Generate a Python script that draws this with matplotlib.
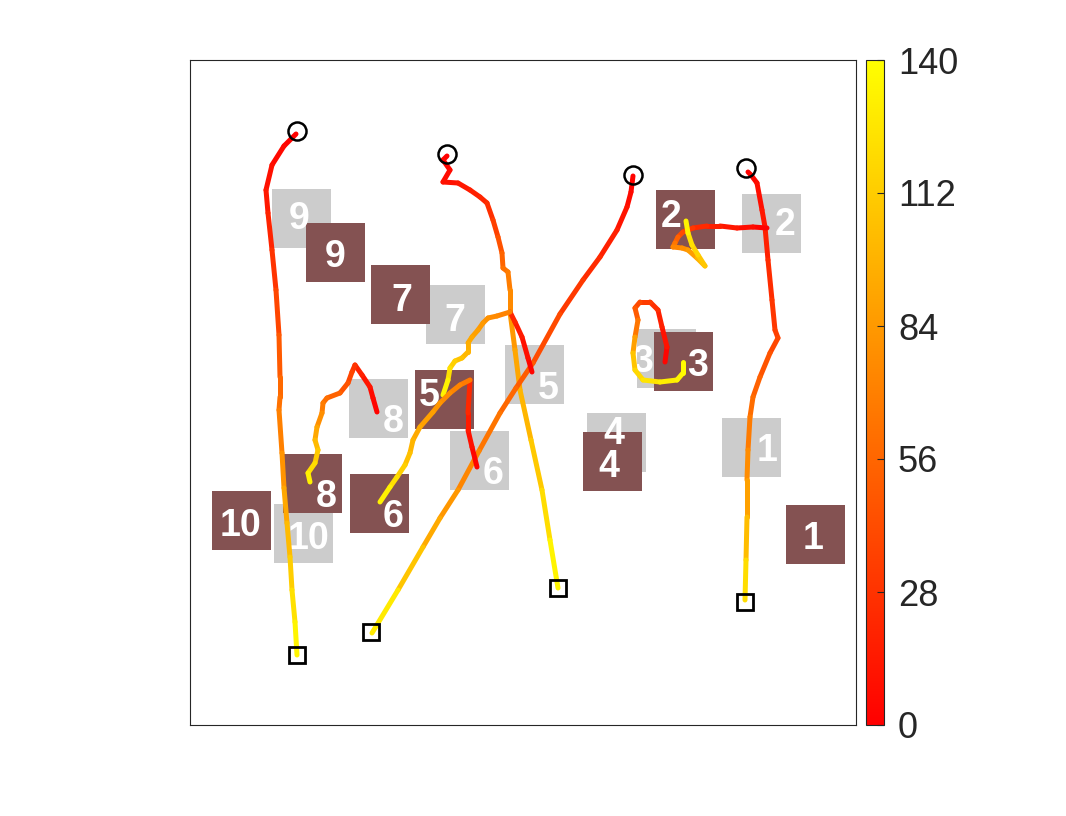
import numpy as np
import matplotlib
matplotlib.use("Agg")
import matplotlib.pyplot as plt
from matplotlib.collections import LineCollection
from matplotlib.patches import Rectangle
from matplotlib.colors import Normalize
from matplotlib.cm import ScalarMappable

# arena coordinates (image-style, y grows downwards), time in seconds
t_max = 140
cbar_ticks = [0, 28, 56, 84, 112, 140]

# initial object positions (grey) and goal positions (dark)
box_ids = ["1", "2", "3", "4", "5", "6", "7", "8", "9", "10"]
start_x = [561, 581, 476, 426, 344, 289, 265, 188, 111, 113]
start_y = [387, 163, 298, 382, 314, 400, 254, 348, 158, 473]
start_lx = [577, 595, 453, 424, 358, 303, 265, 203, 109, 119]
start_ly = [387, 161, 298, 370, 325, 410, 257, 358, 155, 475]
goal_x = [625, 495, 493, 422, 254, 189, 210, 122, 145, 51]
goal_y = [474, 159, 301, 401, 339, 443, 234, 423, 192, 460]
goal_lx = [623, 481, 508, 419, 239, 203, 212, 136, 145, 51]
goal_ly = [475, 153, 302, 403, 332, 453, 237, 433, 193, 462]

# robots: start (circle) and end (square)
robot_start_x = [107, 257, 443, 556]
robot_start_y = [71, 94, 115, 108]
robot_end_x = [107, 368, 181, 555]
robot_end_y = [595, 528, 572, 542]

# robot paths
ra_x = [106, 94, 82, 76, 78, 82, 86, 89, 90, 90, 89, 92, 94, 97, 100, 102, 105, 107]
ra_y = [74, 86, 105, 130, 153, 190, 230, 275, 317, 337, 350, 393, 428, 463, 497, 530, 562, 595]
ra_t = [0, 3, 7, 11, 16, 24, 33, 44, 55, 60, 64, 76, 86, 97, 108, 118, 129, 140]

rb_x = [257, 253, 260, 253, 268, 280, 290, 297, 303, 308, 312, 313, 318, 320, 320,
        325, 330, 341, 352, 360, 368]
rb_y = [96, 100, 110, 122, 123, 130, 137, 143, 160, 177, 193, 208, 212, 230, 252,
        290, 330, 380, 430, 480, 528]
rb_t = [0, 2, 5, 8, 11, 15, 19, 22, 30, 40, 50, 60, 65, 72, 80,
        87, 95, 105, 115, 127, 140]

rc_x = [443, 441, 437, 427, 410, 393, 370, 343, 326, 310, 289, 268, 250, 233, 208, 182]
rc_y = [116, 132, 147, 170, 197, 220, 254, 303, 328, 353, 391, 430, 458, 487, 530, 573]
rc_t = [0, 4, 8, 14, 21, 27, 36, 47, 53, 60, 69, 78, 88, 98, 118, 138]

rd_x = [558, 561, 567, 572, 575, 578, 582, 585, 588, 580, 570, 563, 560, 558, 557, 557, 556, 555]
rd_y = [112, 115, 123, 150, 167, 200, 240, 270, 278, 293, 317, 337, 357, 390, 420, 457, 500, 540]
rd_t = [0, 2, 5, 11, 15, 21, 28, 33, 36, 42, 50, 57, 63, 72, 82, 95, 112, 130]

# object paths
o2_x = [577, 563, 547, 530, 517, 503, 493, 488, 485, 483, 492, 498, 507, 515, 508, 502, 498, 496]
o2_y = [168, 167, 168, 166, 166, 168, 172, 177, 183, 187, 188, 190, 198, 206, 195, 185, 173, 161]
o2_t = [0, 4, 10, 16, 20, 26, 36, 48, 60, 70, 76, 82, 90, 105, 113, 120, 128, 138]

o3_x = [475, 477, 472, 468, 460, 450, 445, 448, 445, 443, 445, 453, 470, 487, 493, 493]
o3_y = [302, 287, 267, 250, 242, 242, 248, 260, 277, 293, 310, 320, 322, 320, 313, 302]
o3_t = [0, 6, 14, 22, 30, 36, 44, 55, 75, 100, 115, 122, 128, 133, 136, 139]

o5_x = [342, 338, 332, 325, 320, 320, 307, 298, 293, 288, 282, 278, 278, 272, 265, 260, 258, 253]
o5_y = [312, 298, 277, 262, 252, 252, 256, 258, 263, 270, 277, 283, 292, 298, 301, 308, 320, 335]
o5_t = [0, 6, 12, 18, 25, 70, 74, 78, 82, 86, 90, 94, 98, 104, 110, 118, 128, 138]

o6_x = [287, 282, 278, 278, 280, 280, 270, 260, 250, 243, 230, 223, 220, 215, 207, 200, 190]
o6_y = [407, 387, 370, 353, 320, 320, 325, 333, 343, 352, 367, 380, 393, 405, 417, 427, 442]
o6_t = [0, 6, 12, 18, 26, 65, 70, 75, 80, 85, 90, 96, 102, 110, 118, 126, 138]

o8_x = [187, 183, 180, 172, 165, 162, 158, 150, 137, 133, 132, 127, 125, 128, 125, 118, 120]
o8_y = [352, 338, 327, 315, 305, 312, 323, 333, 338, 343, 353, 367, 380, 390, 403, 413, 422]
o8_t = [0, 4, 9, 15, 22, 35, 42, 50, 58, 64, 72, 85, 98, 106, 116, 126, 138]

paths = [(ra_x, ra_y, ra_t), (rb_x, rb_y, rb_t), (rc_x, rc_y, rc_t), (rd_x, rd_y, rd_t),
         (o2_x, o2_y, o2_t), (o3_x, o3_y, o3_t), (o5_x, o5_y, o5_t),
         (o6_x, o6_y, o6_t), (o8_x, o8_y, o8_t)]

box_side = 59
grey = "#cccccc"
dark = "#845252"
cmap = plt.get_cmap("autumn")
norm = Normalize(0, t_max)

fig = plt.figure(figsize=(10.66, 8.16), dpi=100)
ax = fig.add_axes([190 / 1066, 91 / 816, 666 / 1066, 665 / 816])
cax = fig.add_axes([866 / 1066, 91 / 816, 18 / 1066, 665 / 816])

for xs, ys, lxs, lys, col in [(start_x, start_y, start_lx, start_ly, grey),
                              (goal_x, goal_y, goal_lx, goal_ly, dark)]:
    for i, lab in enumerate(box_ids):
        ax.add_patch(Rectangle((xs[i] - box_side / 2, ys[i] - box_side / 2),
                               box_side, box_side, color=col, lw=0, zorder=1))
        ax.text(lxs[i], lys[i], lab, color="white", fontsize=27, fontweight="bold",
                family="Liberation Sans", ha="center", va="center_baseline", zorder=2)

for px, py, pt in paths:
    pts = np.column_stack([px, py])
    segs = np.stack([pts[:-1], pts[1:]], axis=1)
    tt = np.asarray(pt, dtype=float)
    lc = LineCollection(segs, cmap=cmap, norm=norm, linewidths=3.6,
                        capstyle="round", joinstyle="round", zorder=3)
    lc.set_array((tt[:-1] + tt[1:]) / 2)
    ax.add_collection(lc)

ax.plot(robot_start_x, robot_start_y, "o", ms=13, mfc="none", mec="black", mew=1.8, zorder=4)
ax.plot(robot_end_x, robot_end_y, "s", ms=11.5, mfc="none", mec="black", mew=2, zorder=4)

ax.set_xlim(0, 666)
ax.set_ylim(665, 0)
ax.set_xticks([])
ax.set_yticks([])
for sp in ax.spines.values():
    sp.set_color("#262626")
    sp.set_linewidth(0.8)

cb = fig.colorbar(ScalarMappable(norm=norm, cmap=cmap), cax=cax, ticks=cbar_ticks)
cb.outline.set_edgecolor("#262626")
cb.outline.set_linewidth(0.8)
cax.tick_params(direction="in", length=5, width=0.8, color="#262626",
                labelsize=26, labelcolor="#262626", pad=10)
for lab in cax.get_yticklabels():
    lab.set_family("Liberation Sans")

fig.savefig("out.png", dpi=100)
